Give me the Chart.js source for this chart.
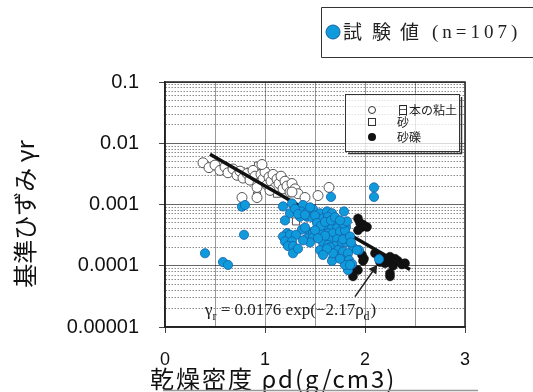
<!DOCTYPE html>
<html>
<head>
<meta charset="utf-8">
<script src="https://cdn.jsdelivr.net/npm/chart.js@4.4.0/dist/chart.umd.min.js"></script>
<style>
  html, body { margin: 0; padding: 0; background: #fff; }
  #wrap { width: 533px; height: 392px; }
</style>
</head>
<body>
<div id="wrap"><canvas id="grafico"></canvas></div>
<script>
// Ejes y marcas
var xTicks = [0, 0.5, 1, 1.5, 2, 2.5, 3];
var xTickLabels = ['0', '', '1', '', '2', '', '3'];
var yMajor = [0.00001, 0.0001, 0.001, 0.01, 0.1];
var yTickLabels = ['0.00001', '0.0001', '0.001', '0.01', '0.1'];
var yMinorFactors = [2, 3, 4, 5, 6, 7, 8, 9];

// 試験値 (n=107)
var testX = [0.40, 0.58, 0.63, 0.79, 0.77, 0.80, 1.66, 2.09, 2.09, 2.14,
  1.18, 1.27, 1.38, 1.48, 1.36, 1.43, 1.55, 1.62, 1.67, 1.79,
  1.25, 1.20, 1.35, 1.42, 1.47, 1.53, 1.58, 1.63, 1.72, 1.77,
  1.62, 1.67, 1.72, 1.81, 1.37, 1.22, 1.18, 1.25, 1.31, 1.45,
  1.48, 1.57, 1.63, 1.68, 1.75, 1.80, 1.20, 1.27, 1.42, 1.48,
  1.60, 1.65, 1.72, 1.83, 1.23, 1.28, 1.45, 1.58, 1.63, 1.70,
  1.77, 1.81, 1.28, 1.55, 1.65, 1.73, 1.78, 1.68, 1.67, 1.81,
  1.82, 1.83, 1.80, 1.78, 1.85, 1.88, 1.94, 1.83, 1.84, 1.87,
  1.80, 1.78, 1.82, 1.92, 1.85, 1.30, 1.33, 1.40, 1.45, 1.50,
  1.52, 1.56, 1.60, 1.66, 1.70, 1.75, 1.40, 1.50, 1.60, 1.38,
  1.53, 1.68, 1.75, 1.62, 1.33, 1.58, 1.86];
var testY = [0.00016, 0.000115, 0.000103, 0.00032, 0.00092, 0.00098, 0.00133, 0.0019, 0.00133, 0.000128,
  0.00093, 0.00104, 0.00098, 0.00084, 0.00077, 0.00077, 0.00072, 0.00077, 0.00072, 0.00077,
  0.00072, 0.00055, 0.00063, 0.00063, 0.00062, 0.00059, 0.00059, 0.00063, 0.00049, 0.00048,
  0.00041, 0.00041, 0.00041, 0.00043, 0.00039, 0.00034, 0.00030, 0.00032, 0.00032, 0.00035,
  0.00034, 0.00034, 0.00034, 0.00034, 0.00036, 0.00030, 0.00025, 0.00025, 0.00028, 0.00029,
  0.00028, 0.00026, 0.00027, 0.00030, 0.00021, 0.00021, 0.00024, 0.00024, 0.00022, 0.00021,
  0.00024, 0.00024, 0.00016, 0.00018, 0.00020, 0.00018, 0.00017, 0.00013, 0.00012, 0.00013,
  0.000103, 0.000085, 0.00038, 0.00027, 0.00030, 0.00020, 0.00018, 0.00016, 0.000124, 0.000107,
  0.000103, 0.00049, 0.00053, 0.00018, 0.000103, 0.00085, 0.00070, 0.00068, 0.00090, 0.00066,
  0.00050, 0.00045, 0.00052, 0.00055, 0.00062, 0.00055, 0.00042, 0.00038, 0.00031, 0.00026,
  0.00028, 0.00016, 0.00013, 0.00019, 0.00019, 0.00015, 0.00024];

// 日本の粘土 (○)
var arcillaX = [0.38, 0.44, 0.50, 0.55, 0.60, 0.63, 0.68, 0.72, 0.75, 0.78,
  0.82, 0.85, 0.88, 0.90, 0.93, 0.96, 0.98, 1.00, 1.02, 1.04,
  1.06, 1.08, 1.10, 1.12, 1.14, 1.16, 1.18, 1.20, 1.22, 1.25,
  1.27, 1.30, 1.33, 1.05, 0.92, 0.77, 0.92, 1.27, 1.53, 1.64, 1.40, 0.97];
var arcillaY = [0.0048, 0.0040, 0.0044, 0.0036, 0.0041, 0.0033, 0.0038, 0.0030, 0.0035, 0.0027,
  0.0032, 0.0025, 0.0036, 0.0029, 0.0022, 0.0031, 0.0026, 0.0034, 0.0021, 0.0028,
  0.0024, 0.0031, 0.0019, 0.0026, 0.0022, 0.0029, 0.0018, 0.0024, 0.0020, 0.0016,
  0.0022, 0.0018, 0.0015, 0.0017, 0.0019, 0.0013, 0.0013, 0.0016, 0.0014, 0.0019, 0.0013, 0.0045];

// 砂 (□)
var arenaX = [0.93, 0.98, 0.92, 1.31, 1.12];
var arenaY = [0.0043, 0.0041, 0.0014, 0.00053, 0.0015];

// 砂礫 (●)
var gravaX = [1.93, 1.95, 1.97, 2.02, 1.93, 1.98, 1.97, 1.99, 1.98, 1.88,
  1.88, 1.93, 2.17, 2.22, 2.25, 2.27, 2.28, 2.33, 2.37, 2.25,
  2.25, 2.20, 2.30, 2.40, 2.15, 2.10];
var gravaY = [0.00059, 0.00050, 0.00043, 0.00043, 0.00038, 0.00047, 0.00015, 0.00013, 0.00012, 0.000067,
  0.00009, 0.000085, 0.00013, 0.00012, 0.00014, 0.00011, 0.00010, 0.00012, 0.000105, 0.000075,
  0.000067, 0.00011, 0.00013, 0.00011, 0.000115, 0.00016];

// γr = 0.0176 exp(-2.17ρd) (extremos)
var rectaX = [0.45, 2.45];
var rectaY = [0.0066, 0.000087];

// flecha hacia la recta
var flechaX = [1.90, 2.09];
var flechaY = [0.0000313, 0.000087];

function pares(xs, ys) {
  return xs.map(function (x, i) { return { x: x, y: ys[i] }; });
}

function indiceMayor(v) {
  for (var i = 0; i < yMajor.length; i++) {
    if (Math.abs(v / yMajor[i] - 1) < 1e-6) return i;
  }
  return -1;
}

var textosPlugin = {
  id: 'textos',
  afterDraw: function (chart) {
    var ctx = chart.ctx;
    var a = chart.chartArea;
    var xs = chart.scales.x, ys = chart.scales.y;
    ctx.save();

    // marco
    ctx.strokeStyle = '#222';
    ctx.lineWidth = 1.5;
    ctx.strokeRect(a.left, a.top, a.right - a.left, a.bottom - a.top);

    // leyenda interior
    ctx.fillStyle = 'rgba(255,255,255,0.75)';
    ctx.fillRect(345, 94, 115, 58);
    ctx.strokeStyle = '#333';
    ctx.lineWidth = 1;
    ctx.strokeRect(345.5, 94.5, 114, 57);
    ctx.lineWidth = 1.5;
    ctx.beginPath();
    ctx.moveTo(348, 153.5); ctx.lineTo(461.5, 153.5); ctx.lineTo(461.5, 97);
    ctx.stroke();
    ctx.lineWidth = 1;
    ctx.beginPath(); ctx.arc(372, 110, 3.5, 0, Math.PI * 2); ctx.stroke();
    ctx.strokeRect(368.5, 118.5, 7, 7);
    ctx.fillStyle = '#111';
    ctx.beginPath(); ctx.arc(372, 137, 4, 0, Math.PI * 2); ctx.fill();
    ctx.font = '12px "Noto Sans CJK JP"';
    ctx.textBaseline = 'middle';
    ctx.textAlign = 'left';
    ctx.fillStyle = '#222';
    ctx.fillText('日本の粘土', 397, 110);
    ctx.fillText('砂', 397, 122);
    ctx.fillText('砂礫', 397, 137);

    // fórmula
    var fx = xs.getPixelForValue(0.40);
    var fy = ys.getPixelForValue(0.0000157);
    ctx.fillStyle = '#222';
    ctx.textBaseline = 'alphabetic';
    ctx.font = '17px "Liberation Serif"';
    ctx.fillText('γ', fx, fy);
    fx += ctx.measureText('γ').width;
    ctx.font = '12px "Liberation Serif"';
    ctx.fillText('r', fx, fy + 5);
    fx += ctx.measureText('r').width;
    ctx.font = '17px "Liberation Serif"';
    var t = ' = 0.0176 exp(−2.17ρ';
    ctx.fillText(t, fx, fy);
    fx += ctx.measureText(t).width;
    ctx.font = '12px "Liberation Serif"';
    ctx.fillText('d', fx, fy + 5);
    fx += ctx.measureText('d').width;
    ctx.font = '17px "Liberation Serif"';
    ctx.fillText(')', fx + 1, fy);

    // leyenda superior
    ctx.strokeStyle = '#333';
    ctx.lineWidth = 1;
    ctx.beginPath();
    ctx.moveTo(533, 7.5); ctx.lineTo(321.5, 7.5); ctx.lineTo(321.5, 57.5); ctx.lineTo(533, 57.5);
    ctx.stroke();
    ctx.fillStyle = '#0F9BDB';
    ctx.strokeStyle = '#1560A8';
    ctx.beginPath(); ctx.arc(333, 32, 7, 0, Math.PI * 2); ctx.fill(); ctx.stroke();
    ctx.fillStyle = '#222';
    ctx.textBaseline = 'middle';
    ctx.font = '19px "Noto Sans CJK JP"';
    ctx.fillText('試', 343, 32);
    ctx.fillText('験', 372, 32);
    ctx.fillText('値', 400, 32);
    ctx.font = '19px "Liberation Serif"';
    if ('letterSpacing' in ctx) ctx.letterSpacing = '4px';
    ctx.fillText('(n=107)', 432, 33);

    // títulos de ejes
    ctx.font = '24px "Noto Sans CJK JP"';
    ctx.fillStyle = '#111';
    ctx.textBaseline = 'middle';
    if ('letterSpacing' in ctx) ctx.letterSpacing = '2px';
    ctx.fillText('乾燥密度 ρd(g/cm3)', 150, 379);
    if ('letterSpacing' in ctx) ctx.letterSpacing = '0px';
    ctx.save();
    ctx.translate(25, 214);
    ctx.rotate(-Math.PI / 2);
    ctx.textAlign = 'center';
    ctx.fillText('基準ひずみ γr', 0, 0);
    ctx.restore();

    ctx.strokeStyle = '#999';
    ctx.lineWidth = 1.5;
    ctx.beginPath(); ctx.moveTo(163, 390.5); ctx.lineTo(478, 390.5); ctx.stroke();

    ctx.restore();
  }
};

var ctx = document.getElementById('grafico').getContext('2d');
new Chart(ctx, {
  type: 'scatter',
  data: {
    datasets: [{
      label: '試験値',
      data: pares(testX, testY),
      pointRadius: 4.6,
      backgroundColor: '#0F9BDB',
      borderColor: '#1560A8',
      borderWidth: 0.8,
      order: 0
    }, {
      label: '砂礫',
      data: pares(gravaX, gravaY),
      pointRadius: 4.5,
      backgroundColor: '#111',
      borderColor: '#111',
      borderWidth: 0.5,
      order: 2
    }, {
      label: '日本の粘土',
      data: pares(arcillaX, arcillaY),
      pointRadius: 5,
      backgroundColor: '#fff',
      borderColor: '#555',
      borderWidth: 1,
      order: 3
    }, {
      label: '砂',
      data: pares(arenaX, arenaY),
      pointStyle: 'rect',
      pointRadius: 5,
      backgroundColor: '#fff',
      borderColor: '#555',
      borderWidth: 1,
      order: 3
    }, {
      label: 'recta',
      data: pares(rectaX, rectaY),
      showLine: true,
      pointRadius: 0,
      borderColor: '#111',
      borderWidth: 3.5,
      order: 1
    }, {
      label: 'flecha',
      data: pares(flechaX, flechaY),
      showLine: true,
      borderColor: '#222',
      borderWidth: 1.5,
      pointRadius: [0, 4],
      pointStyle: 'triangle',
      rotation: 35,
      backgroundColor: '#222',
      order: 1
    }]
  },
  options: {
    responsive: true,
    maintainAspectRatio: false,
    animation: false,
    events: [],
    layout: { padding: { top: 82, right: 68, left: 0, bottom: 0 } },
    plugins: { legend: { display: false }, tooltip: { enabled: false } },
    scales: {
      x: {
        type: 'linear',
        min: 0,
        max: 3,
        afterBuildTicks: function (scale) {
          scale.ticks = xTicks.map(function (v) { return { value: v }; });
        },
        afterFit: function (scale) { scale.height = 65; },
        ticks: {
          autoSkip: false,
          maxRotation: 0,
          padding: 16,
          color: '#111',
          font: { family: 'Liberation Sans', size: 18 },
          callback: function (v, i) { return xTickLabels[i]; }
        },
        grid: {
          color: 'rgba(0,0,0,0.4)',
          lineWidth: 1,
          tickLength: 6,
          tickColor: function (c) {
            return c.tick && Number.isInteger(c.tick.value) ? '#444' : 'rgba(0,0,0,0)';
          }
        },
        border: { color: '#222', width: 1.5 }
      },
      y: {
        type: 'logarithmic',
        min: 0.00001,
        max: 0.1,
        afterBuildTicks: function (scale) {
          var lista = [];
          for (var i = 0; i < yMajor.length; i++) {
            lista.push({ value: yMajor[i], major: true });
            if (i < yMajor.length - 1) {
              yMinorFactors.forEach(function (f) { lista.push({ value: yMajor[i] * f }); });
            }
          }
          scale.ticks = lista;
        },
        afterFit: function (scale) { scale.width = 165; },
        ticks: {
          autoSkip: false,
          padding: 20,
          color: '#111',
          font: { family: 'Liberation Sans', size: 20 },
          callback: function (v) {
            var k = indiceMayor(v);
            return k >= 0 ? yTickLabels[k] : '';
          }
        },
        grid: {
          color: function (c) {
            if (!c.tick) return 'rgba(0,0,0,0.5)';
            return indiceMayor(c.tick.value) >= 0 ? 'rgba(0,0,0,0.6)' : 'rgba(0,0,0,0.45)';
          },
          lineWidth: 1,
          tickLength: 6,
          tickColor: function (c) {
            return c.tick && indiceMayor(c.tick.value) >= 0 ? '#444' : 'rgba(0,0,0,0)';
          }
        },
        border: {
          color: '#222',
          width: 1.5,
          dash: function (c) {
            if (!c.tick) return [];
            return indiceMayor(c.tick.value) >= 0 ? [] : [1.5, 1.5];
          }
        }
      }
    }
  },
  plugins: [textosPlugin]
});
</script>
</body>
</html>
